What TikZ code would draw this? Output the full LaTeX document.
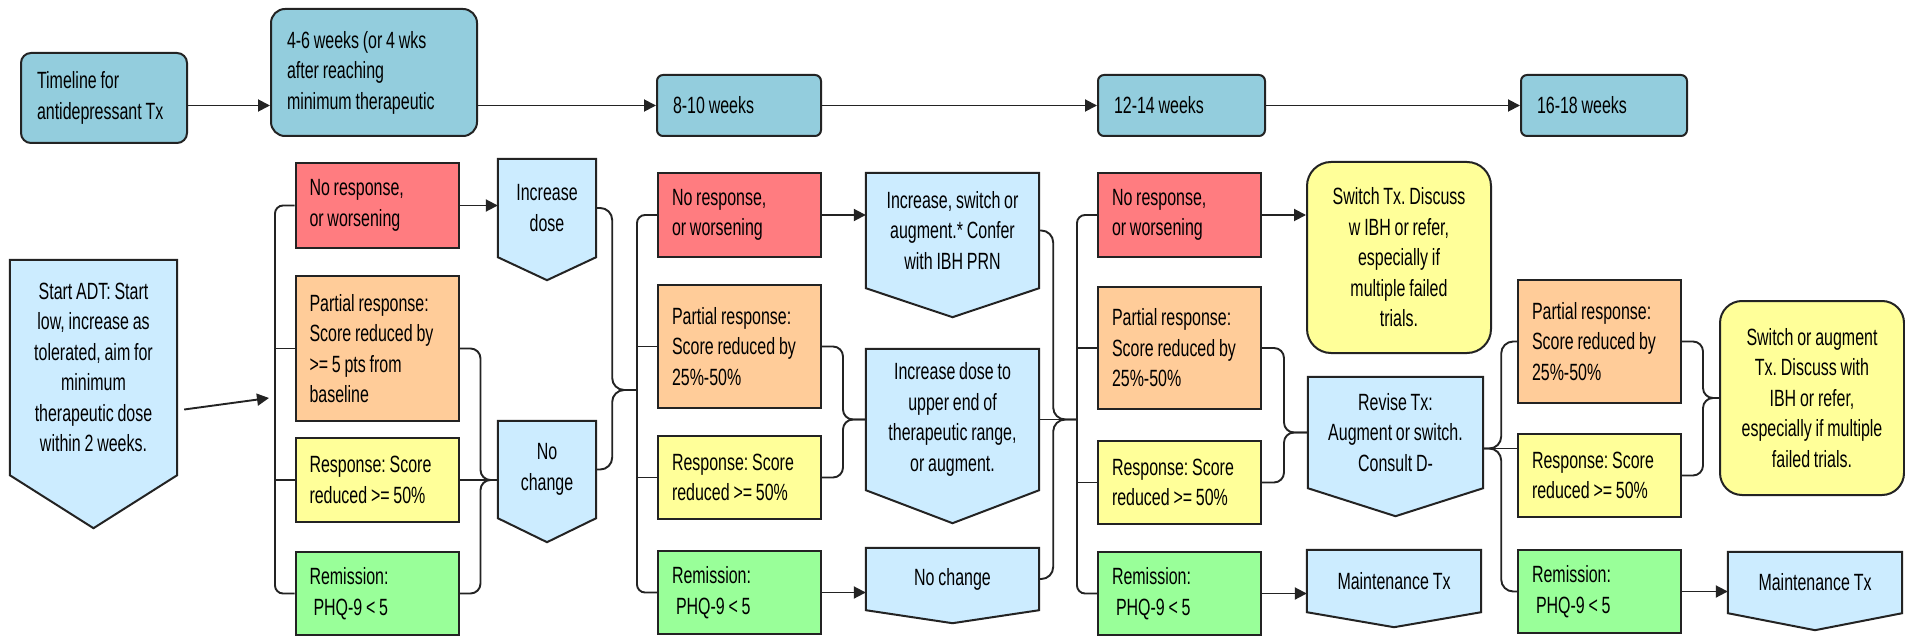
\documentclass[tikz,border=0pt]{standalone}
\usepackage{fontspec}
\setmainfont{Liberation Sans}[FakeStretch=0.68,WordSpace=0.85]
\usetikzlibrary{calc,backgrounds,arrows.meta}
\definecolor{weekblue}{RGB}{147,205,221}
\definecolor{stepblue}{RGB}{204,236,255}
\definecolor{noresp}{RGB}{255,124,128}
\definecolor{partresp}{RGB}{255,204,153}
\definecolor{fullresp}{RGB}{255,255,153}
\definecolor{remiss}{RGB}{153,255,153}
\definecolor{edge}{RGB}{35,35,35}
\tikzset{
  wkbox/.style={draw=edge, line width=2pt, fill=weekblue, rounded corners=8pt,
    align=flush left, text width=#1, inner xsep=16pt, inner ysep=0pt},
  resbox/.style={draw=edge, line width=2pt, align=flush left, text width=135pt,
    inner xsep=14pt, inner ysep=0pt},
  actbox/.style={align=center, inner sep=0pt},
  advbox/.style={draw=edge, line width=2pt, fill=fullresp, rounded corners=24pt,
    align=center, inner sep=0pt},
  conn/.style={draw=edge, line width=1.9pt},
}
\begin{document}
\begin{tikzpicture}[x=1pt,y=-1pt,>={Triangle[length=12pt,width=12pt]},
  font=\fontsize{23.5pt}{30.5pt}\selectfont\frenchspacing]
\useasboundingbox (0,0) rectangle (1905,636);

\node[wkbox=134pt, minimum height=90pt, rounded corners=10pt] (tl) at (104,98) {Timeline for\\antidepressant Tx};
\node[wkbox=174pt, minimum height=127pt, rounded corners=14pt] (w46) at (374,72.5) {4-6 weeks (or 4 wks\\after reaching\\minimum therapeutic};
\node[wkbox=132pt, minimum height=61pt, rounded corners=6pt] (w810) at (739,105.5) {8-10 weeks};
\node[wkbox=135pt, minimum height=61pt, rounded corners=6pt] (w1214) at (1181.5,105.5) {12-14 weeks};
\node[wkbox=134pt, minimum height=61pt, rounded corners=6pt] (w1618) at (1604,105.5) {16-18 weeks};

\draw[conn,->] (tl.east |- w810.west) -- (w46.west |- w810.west);
\draw[conn,->] (w46.east |- w810.west) -- (w810.west);
\draw[conn,->] (w810.east) -- (w1214.west);
\draw[conn,->] (w1214.east) -- (w1618.west);

\node[actbox, minimum width=167pt, minimum height=215pt] (adt) at (93.5,367.5) {Start ADT: Start\\low, increase as\\tolerated, aim for\\minimum\\therapeutic dose\\within 2 weeks.};

\node[resbox, fill=noresp, minimum height=85pt] (r1) at (377,205.5) {No response,\\or worsening};
\node[resbox, fill=partresp, minimum height=145pt] (o1) at (377,348.5) {Partial response:\\Score reduced by\\>= 5 pts from\\baseline};
\node[resbox, fill=fullresp, minimum height=84pt] (y1) at (377,480) {Response: Score\\reduced >= 50\%};
\node[resbox, fill=remiss, minimum height=83pt] (g1) at (377,593.5) {Remission:\\\hspace*{4pt}PHQ-9 < 5};
\node[actbox, minimum width=98pt, minimum height=98pt] (inc1) at (547,208) {Increase\\dose};
\node[actbox, minimum width=98pt, minimum height=97pt] (nc1) at (547,469.5) {No\\change};

\node[resbox, fill=noresp, minimum height=84pt] (r2) at (739.5,215) {No response,\\or worsening};
\node[resbox, fill=partresp, minimum height=123pt] (o2) at (739.5,346.5) {Partial response:\\Score reduced by\\25\%-50\%};
\node[resbox, fill=fullresp, minimum height=83pt] (y2) at (739.5,477.5) {Response: Score\\reduced >= 50\%};
\node[resbox, fill=remiss, minimum height=83pt] (g2) at (739.5,592.5) {Remission:\\\hspace*{4pt}PHQ-9 < 5};
\node[actbox, minimum width=173pt, minimum height=115pt] (isw) at (952.5,230.5) {Increase, switch or\\augment.* Confer\\with IBH PRN};
\node[actbox, minimum width=173pt, minimum height=141pt] (upp) at (952.5,419.5) {Increase dose to\\upper end of\\therapeutic range,\\or augment.};
\node[actbox, minimum width=173pt, minimum height=62pt] (nc2) at (952.5,579) {No change};

\node[resbox, fill=noresp, minimum height=84pt] (r3) at (1179.5,215) {No response,\\or worsening};
\node[resbox, fill=partresp, minimum height=122pt] (o3) at (1179.5,348) {Partial response:\\Score reduced by\\25\%-50\%};
\node[resbox, fill=fullresp, minimum height=83pt] (y3) at (1179.5,482.5) {Response: Score\\reduced >= 50\%};
\node[resbox, fill=remiss, minimum height=83pt] (g3) at (1179.5,593.5) {Remission:\\\hspace*{4pt}PHQ-9 < 5};
\node[advbox, minimum width=184pt, minimum height=191pt] (sw3) at (1399,257.5) {Switch Tx. Discuss\\w IBH or refer,\\especially if\\multiple failed\\trials.};
\node[actbox, minimum width=175pt, minimum height=111pt] (rev) at (1395.5,432.5) {Revise Tx:\\Augment or switch.\\Consult D-};
\node[actbox, minimum width=174pt, minimum height=62pt] (mt3) at (1394,581) {Maintenance Tx};

\node[resbox, fill=partresp, minimum height=123pt] (o4) at (1599.5,341.5) {Partial response:\\Score reduced by\\25\%-50\%};
\node[resbox, fill=fullresp, minimum height=83pt] (y4) at (1599.5,475.5) {Response: Score\\reduced >= 50\%};
\node[resbox, fill=remiss, minimum height=83pt] (g4) at (1599.5,591.5) {Remission:\\\hspace*{4pt}PHQ-9 < 5};
\node[advbox, minimum width=184pt, minimum height=194pt, rounded corners=22pt] (sa4) at (1812,398) {Switch or augment\\Tx. Discuss with\\IBH or refer,\\especially if multiple\\failed trials.};
\node[actbox, minimum width=174pt, minimum height=61pt] (mt4) at (1815,582.5) {Maintenance Tx};

\begin{scope}[on background layer]
  \foreach \n/\t in {adt/53,inc1/23,nc1/24,isw/29,upp/33,nc2/13,rev/28,mt3/15,mt4/17}
    \filldraw[draw=edge, line width=2pt, fill=stepblue] (\n.north west) -- (\n.north east)
      -- (\n.south east) -- ($(\n.south)+(0,\t)$) -- (\n.south west) -- cycle;
\end{scope}

\coordinate (b1) at (275,398);
\coordinate (b2) at (637,390);
\coordinate (b3) at (1077,419.5);
\coordinate (rv) at ($(rev.east)+(0,16)$);

\draw[conn,->] ($(adt.east)+(7,42)$) -- ($(b1)+(-6,0)$);
\draw[conn, rounded corners=8pt] (r1.west) -| (b1) |- (g1.west);
\draw[conn] (b1 |- o1.west) -- (o1.west);
\draw[conn] (b1 |- y1.west) -- (y1.west);
\draw[conn,->] (r1.east) -- (r1.east -| inc1.west);
\draw[conn, rounded corners=10pt] (o1.east) -- +(21,0) |- (y1.east -| nc1.west);
\draw[conn] (y1.east) -- (y1.east -| nc1.west);
\draw[conn, rounded corners=10pt] (g1.east) -- +(21,0) |- (y1.east -| nc1.west);
\draw[conn, rounded corners=12pt] (inc1.east) -- +(16,0) |- (b2);
\draw[conn, rounded corners=12pt] (nc1.east) -- +(16,0) |- (b2);

\draw[conn, rounded corners=8pt] (r2.west) -| (b2) |- (g2.west);
\draw[conn] (b2 |- o2.west) -- (o2.west);
\draw[conn] (b2 |- y2.west) -- (y2.west);
\draw[conn,->] (r2.east) -- (r2.east -| isw.west);
\draw[conn, rounded corners=10pt] (o2.east) -- +(21,0) |- (upp.west);
\draw[conn, rounded corners=10pt] (y2.east) -- +(21,0) |- (upp.west);
\draw[conn,->] (g2.east) -- (g2.east -| nc2.west);
\draw[conn, rounded corners=12pt] (isw.east) -- +(14,0) |- (b3);
\draw[conn] (upp.east) -- (b3);
\draw[conn, rounded corners=12pt] (nc2.east) -- +(14,0) |- (b3);

\draw[conn, rounded corners=8pt] (r3.west) -| (b3) |- (g3.west);
\draw[conn] (b3 |- o3.west) -- (o3.west);
\draw[conn] (b3 |- y3.west) -- (y3.west);
\draw[conn,->] (r3.east) -- (r3.east -| sw3.west);
\draw[conn, rounded corners=10pt] (o3.east) -- +(22,0) |- (rev.west);
\draw[conn, rounded corners=10pt] (y3.east) -- +(22,0) |- (rev.west);
\draw[conn,->] (g3.east) -- (g3.east -| mt3.west);

\draw[conn, rounded corners=12pt] (rv) -- +(18,0) |- (o4.west);
\draw[conn] (rv) -- (rv -| y4.west);
\draw[conn, rounded corners=12pt] (rv) -- +(18,0) |- (g4.west);
\draw[conn, rounded corners=10pt] (o4.east) -- +(21,0) |- (sa4.west);
\draw[conn, rounded corners=10pt] (y4.east) -- +(21,0) |- (sa4.west);
\draw[conn,->] (g4.east) -- (g4.east -| mt4.west);
\end{tikzpicture}
\end{document}
